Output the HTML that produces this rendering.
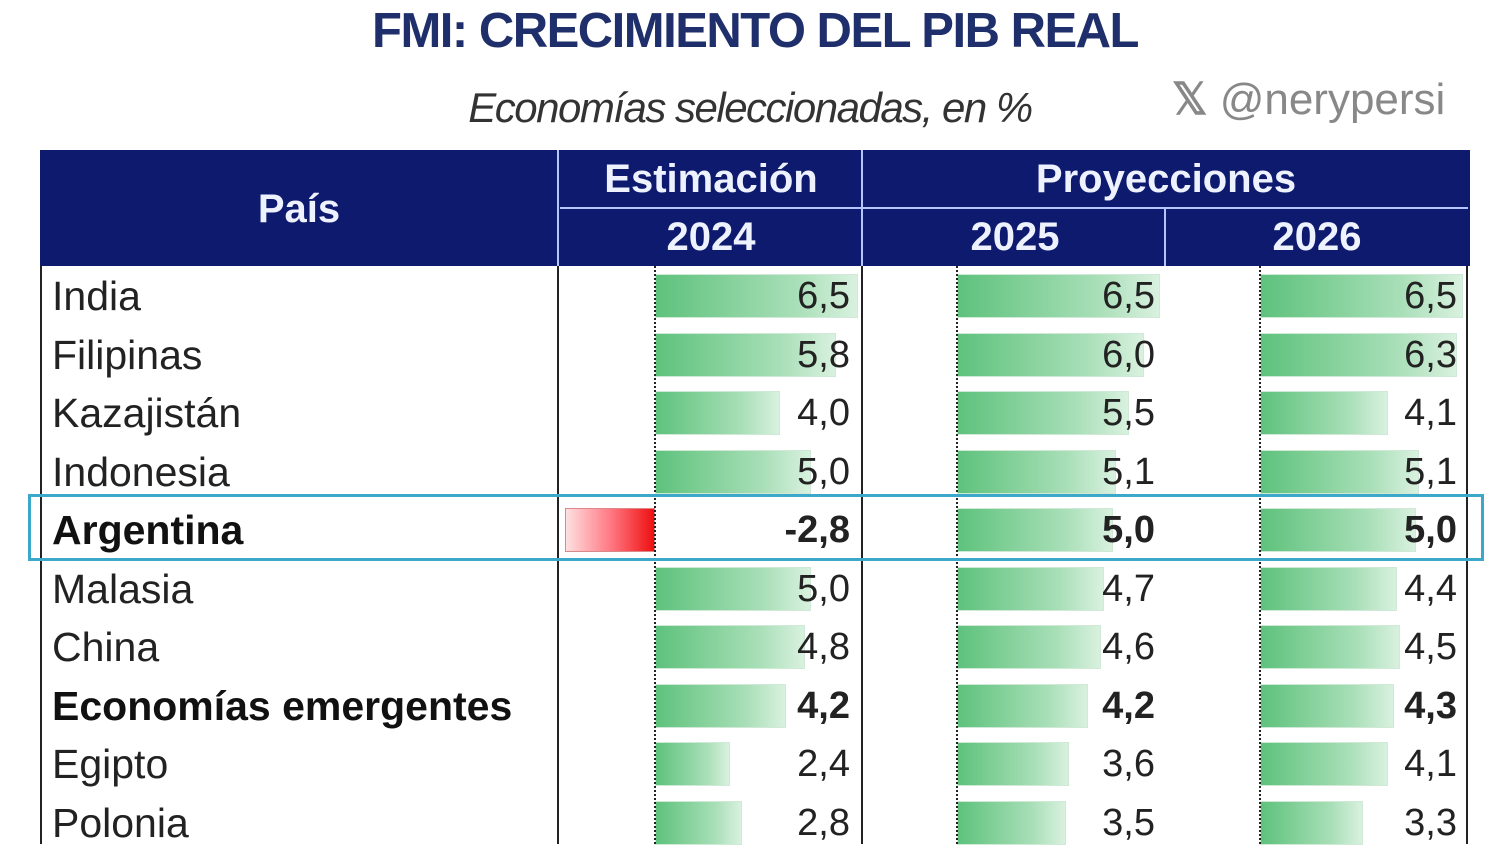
<!DOCTYPE html>
<html><head><meta charset="utf-8"><style>
*{margin:0;padding:0;box-sizing:border-box}
body{width:1500px;height:844px;background:#fff;position:relative;overflow:hidden;font-family:"Liberation Sans",sans-serif}
.a{position:absolute}
.title{left:0;width:1510px;top:3px;text-align:center;font-size:49px;font-weight:bold;color:#1f2f6b;letter-spacing:-1.5px}
.sub{left:0;width:1500px;top:84px;text-align:center;font-size:42px;font-style:italic;color:#333;letter-spacing:-1.5px}
.hdr{background:#0d1a6e;color:#eef2ff;font-weight:bold;text-align:center;font-size:40px}
.vl{background:#b8c4ff;width:2px}
.name{left:52px;font-size:41px;color:#222;height:58px;line-height:58px;white-space:nowrap}
.b{font-weight:bold;color:#111}
.num{font-size:38px;color:#222;height:58px;line-height:58px;text-align:right;width:120px}
.bar{height:44px;background:linear-gradient(90deg,#5ec27c,#a9dfb8 70%,#d9f1df);border:1px solid #cfe9d6}
.ax{width:0;border-left:2px dotted #222;top:266px;height:578px}
.grid{background:#222;width:2px;top:266px;height:578px}
</style></head><body>
<div class="a title">FMI: CRECIMIENTO DEL PIB REAL</div>
<div class="a sub">Economías seleccionadas, en %</div>
<div class="a" style="left:1172px;top:74px;font-size:44px;color:#888;font-weight:bold">𝕏 <span style="font-weight:normal">@nerypersi</span></div>

<div class="a hdr" style="left:40px;top:150px;width:1430px;height:116px"></div>
<div class="a hdr" style="left:40px;top:180px;width:518px;height:58px;line-height:58px;background:none">País</div>
<div class="a hdr" style="left:560px;top:150px;width:302px;height:58px;line-height:58px;background:none">Estimación</div>
<div class="a hdr" style="left:864px;top:150px;width:604px;height:58px;line-height:58px;background:none">Proyecciones</div>
<div class="a hdr" style="left:560px;top:208px;width:302px;height:58px;line-height:58px;background:none">2024</div>
<div class="a hdr" style="left:864px;top:208px;width:302px;height:58px;line-height:58px;background:none">2025</div>
<div class="a hdr" style="left:1166px;top:208px;width:302px;height:58px;line-height:58px;background:none">2026</div>
<div class="a" style="left:560px;top:207px;width:908px;height:2px;background:#b8c4ff"></div>
<div class="a vl" style="left:557px;top:150px;height:116px"></div>
<div class="a vl" style="left:861px;top:150px;height:116px"></div>
<div class="a vl" style="left:1164px;top:208px;height:58px"></div>

<div class="a grid" style="left:40px"></div>
<div class="a grid" style="left:557px"></div>
<div class="a grid" style="left:861px"></div>
<div class="a grid" style="left:1466px"></div>

<div class="a bar" style="left:655px;top:274px;width:203px"></div><div class="a bar" style="left:957px;top:274px;width:203px"></div><div class="a bar" style="left:1260px;top:274px;width:203px"></div>
<div class="a bar" style="left:655px;top:333px;width:181px"></div><div class="a bar" style="left:957px;top:333px;width:187px"></div><div class="a bar" style="left:1260px;top:333px;width:197px"></div>
<div class="a bar" style="left:655px;top:391px;width:125px"></div><div class="a bar" style="left:957px;top:391px;width:172px"></div><div class="a bar" style="left:1260px;top:391px;width:128px"></div>
<div class="a bar" style="left:655px;top:450px;width:156px"></div><div class="a bar" style="left:957px;top:450px;width:159px"></div><div class="a bar" style="left:1260px;top:450px;width:159px"></div>
<div class="a" style="left:565px;top:508px;width:90px;height:44px;background:linear-gradient(90deg,#fde0e0,#ff7a85 50%,#ee1010);border:1px solid #d88"></div><div class="a bar" style="left:957px;top:508px;width:156px"></div><div class="a bar" style="left:1260px;top:508px;width:156px"></div>
<div class="a bar" style="left:655px;top:567px;width:156px"></div><div class="a bar" style="left:957px;top:567px;width:147px"></div><div class="a bar" style="left:1260px;top:567px;width:137px"></div>
<div class="a bar" style="left:655px;top:625px;width:150px"></div><div class="a bar" style="left:957px;top:625px;width:144px"></div><div class="a bar" style="left:1260px;top:625px;width:140px"></div>
<div class="a bar" style="left:655px;top:684px;width:131px"></div><div class="a bar" style="left:957px;top:684px;width:131px"></div><div class="a bar" style="left:1260px;top:684px;width:134px"></div>
<div class="a bar" style="left:655px;top:742px;width:75px"></div><div class="a bar" style="left:957px;top:742px;width:112px"></div><div class="a bar" style="left:1260px;top:742px;width:128px"></div>
<div class="a bar" style="left:655px;top:801px;width:87px"></div><div class="a bar" style="left:957px;top:801px;width:109px"></div><div class="a bar" style="left:1260px;top:801px;width:103px"></div>

<div class="a ax" style="left:654px"></div>
<div class="a ax" style="left:956px"></div>
<div class="a ax" style="left:1259px"></div>

<div class="a name" style="top:267px">India</div>
<div class="a name" style="top:326px">Filipinas</div>
<div class="a name" style="top:384px">Kazajistán</div>
<div class="a name" style="top:443px">Indonesia</div>
<div class="a name b" style="top:501px">Argentina</div>
<div class="a name" style="top:560px">Malasia</div>
<div class="a name" style="top:618px">China</div>
<div class="a name b" style="top:677px">Economías emergentes</div>
<div class="a name" style="top:735px">Egipto</div>
<div class="a name" style="top:794px">Polonia</div>

<div class="a num" style="left:730px;top:267px">6,5</div><div class="a num" style="left:1035px;top:267px">6,5</div><div class="a num" style="left:1337px;top:267px">6,5</div>
<div class="a num" style="left:730px;top:326px">5,8</div><div class="a num" style="left:1035px;top:326px">6,0</div><div class="a num" style="left:1337px;top:326px">6,3</div>
<div class="a num" style="left:730px;top:384px">4,0</div><div class="a num" style="left:1035px;top:384px">5,5</div><div class="a num" style="left:1337px;top:384px">4,1</div>
<div class="a num" style="left:730px;top:443px">5,0</div><div class="a num" style="left:1035px;top:443px">5,1</div><div class="a num" style="left:1337px;top:443px">5,1</div>
<div class="a num b" style="left:730px;top:501px">-2,8</div><div class="a num b" style="left:1035px;top:501px">5,0</div><div class="a num b" style="left:1337px;top:501px">5,0</div>
<div class="a num" style="left:730px;top:560px">5,0</div><div class="a num" style="left:1035px;top:560px">4,7</div><div class="a num" style="left:1337px;top:560px">4,4</div>
<div class="a num" style="left:730px;top:618px">4,8</div><div class="a num" style="left:1035px;top:618px">4,6</div><div class="a num" style="left:1337px;top:618px">4,5</div>
<div class="a num b" style="left:730px;top:677px">4,2</div><div class="a num b" style="left:1035px;top:677px">4,2</div><div class="a num b" style="left:1337px;top:677px">4,3</div>
<div class="a num" style="left:730px;top:735px">2,4</div><div class="a num" style="left:1035px;top:735px">3,6</div><div class="a num" style="left:1337px;top:735px">4,1</div>
<div class="a num" style="left:730px;top:794px">2,8</div><div class="a num" style="left:1035px;top:794px">3,5</div><div class="a num" style="left:1337px;top:794px">3,3</div>

<div class="a" style="left:28px;top:494px;width:1456px;height:67px;border:3px solid #3ba7c9"></div>
</body></html>
